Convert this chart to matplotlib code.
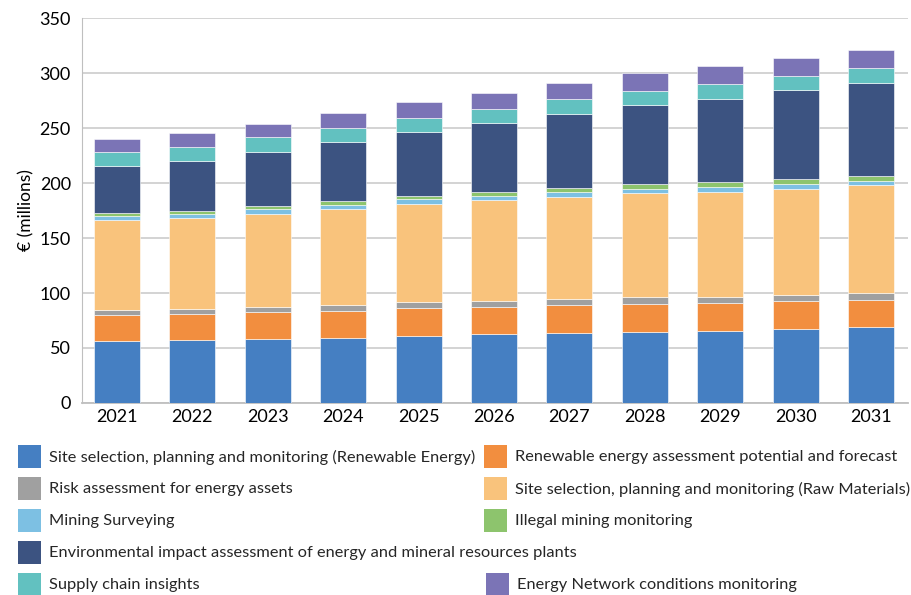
import matplotlib

matplotlib.use("Agg")
import matplotlib.pyplot as plt
import numpy as np
from matplotlib.patches import Rectangle

plt.rcParams["font.family"] = ["Lato", "DejaVu Sans"]

years = ["2021", "2022", "2023", "2024", "2025", "2026", "2027", "2028", "2029", "2030", "2031"]

site_re = [56.0, 57.0, 58.2, 59.4, 61.2, 62.7, 63.9, 64.8, 65.7, 66.9, 68.8]
re_assess = [23.7, 23.6, 24.2, 24.5, 24.8, 24.9, 24.9, 25.5, 25.2, 25.5, 24.8]
risk = [5.1, 4.9, 4.9, 5.2, 5.8, 5.4, 5.7, 5.7, 5.7, 5.8, 6.1]
site_rm = [81.6, 82.4, 84.5, 87.3, 89.1, 91.2, 93.1, 94.6, 95.5, 96.6, 98.2]
mining = [3.6, 3.6, 4.6, 3.6, 4.3, 4.0, 4.2, 3.9, 4.3, 4.6, 3.9]
illegal = [2.7, 3.0, 2.6, 3.6, 3.0, 3.6, 3.9, 4.6, 4.2, 4.2, 4.9]
env_impact = [42.7, 45.8, 49.5, 53.6, 58.5, 62.4, 67.3, 71.5, 76.1, 80.6, 84.5]
supply = [12.5, 12.4, 13.0, 12.4, 12.7, 13.1, 13.4, 13.4, 13.3, 13.4, 13.0]
network = [12.0, 12.8, 12.5, 13.9, 14.2, 14.5, 14.6, 15.7, 16.4, 16.0, 16.7]

series = [
    ("Site selection, planning and monitoring (Renewable Energy)", site_re, "#457FC2"),
    ("Renewable energy assessment potential and forecast", re_assess, "#F28E3F"),
    ("Risk assessment for energy assets", risk, "#A0A0A0"),
    ("Site selection, planning and monitoring (Raw Materials)", site_rm, "#F9C37C"),
    ("Mining Surveying", mining, "#7DC0E3"),
    ("Illegal mining monitoring", illegal, "#8DC46D"),
    ("Environmental impact assessment of energy and mineral resources plants", env_impact, "#3C5381"),
    ("Supply chain insights", supply, "#62C1C0"),
    ("Energy Network conditions monitoring", network, "#7B74B6"),
]

fig = plt.figure(figsize=(9.11, 5.95), dpi=100)
ax = fig.add_axes([0.09, 0.3227, 0.9067, 0.647])

x = np.arange(len(years))
bottom = np.zeros(len(years))
for name, vals, color in series:
    ax.bar(x, vals, 0.61, bottom=bottom, color=color, edgecolor="white", linewidth=0.4, zorder=3)
    bottom += np.array(vals)

ax.set_xlim(-0.465, 10.49)
ax.set_ylim(0, 350)
ax.set_yticks(np.arange(0, 351, 50))
ax.set_xticks(x)
ax.set_xticklabels(years, fontsize=13)
ax.tick_params(axis="y", labelsize=13, length=0, pad=8)
ax.tick_params(axis="x", length=0, pad=4)
ax.grid(True, axis="y", color="#D0D0D0", linewidth=1.3, zorder=0)
for s in ["top", "right"]:
    ax.spines[s].set_visible(False)
ax.spines["left"].set_color("#BFBFBF")
ax.spines["bottom"].set_color("#BFBFBF")
ax.spines["bottom"].set_linewidth(1.3)
ax.set_ylabel("€ (millions)", fontsize=12.5, labelpad=4)

# legend drawn by hand to match the two-column layout
W, H = 911.0, 595.0
rows = [456, 488, 520, 552, 584]
slots = [
    (0, 18, 0), (1, 484, 0),
    (2, 18, 1), (3, 484, 1),
    (4, 18, 2), (5, 484, 2),
    (6, 18, 3),
    (7, 18, 4), (8, 486, 4),
]
for idx, px, r in slots:
    name, _, color = series[idx]
    py = rows[r]
    fig.patches.append(Rectangle((px / W, 1 - (py + 11.5) / H), 23 / W, 23 / H,
                                 transform=fig.transFigure, facecolor=color, edgecolor="none"))
    fig.text((px + 31) / W, 1 - (py + 1) / H, name, fontsize=11.8, va="center", ha="left", color="#262626")

fig.savefig("out.png", dpi=100)
